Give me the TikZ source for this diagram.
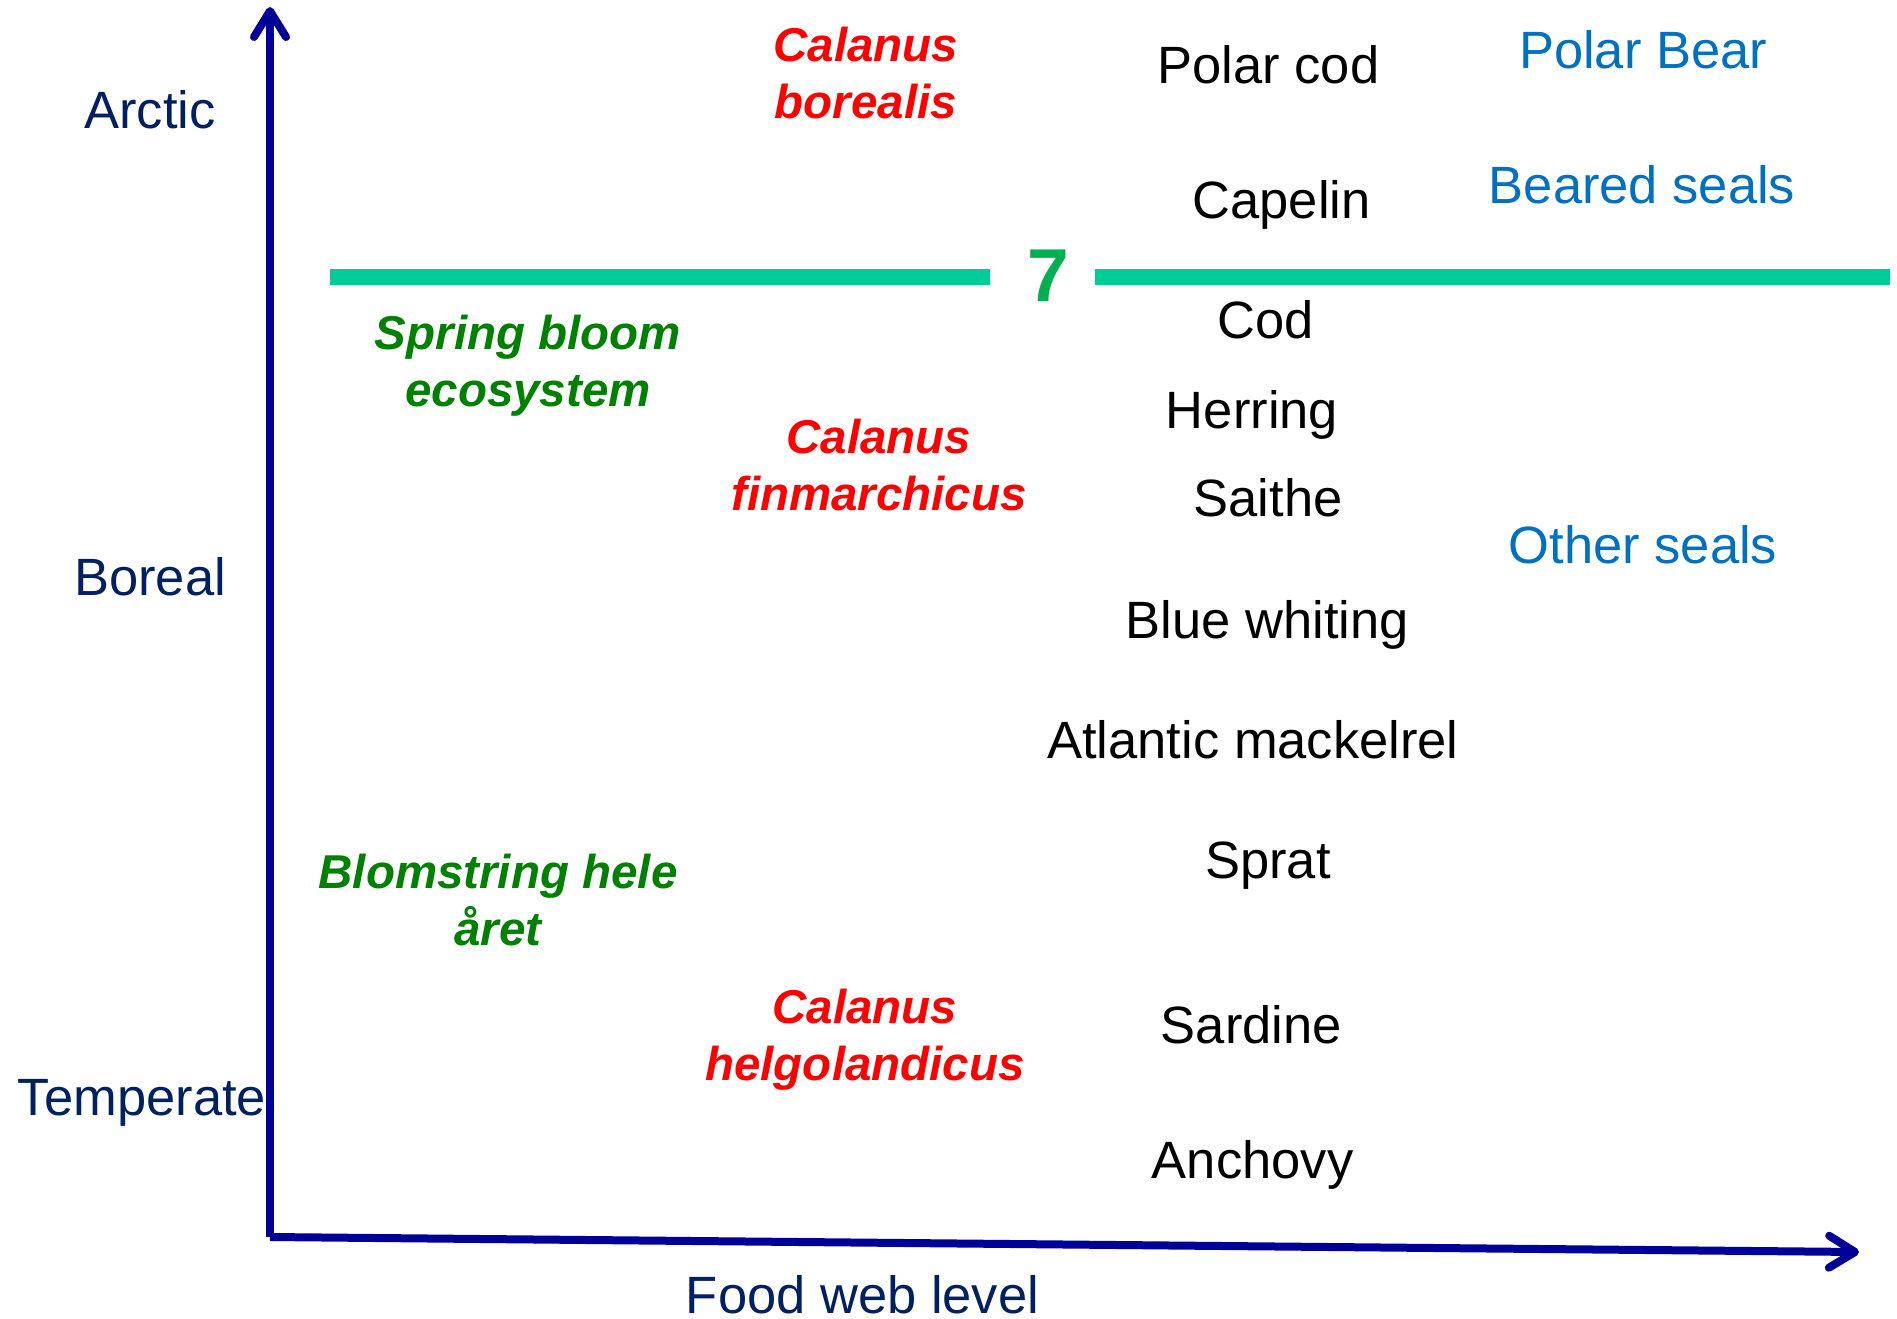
\documentclass[tikz,border=0pt]{standalone}
\usepackage{fontspec}
\setmainfont{Liberation Sans}
\usetikzlibrary{arrows.meta}
\definecolor{navy}{RGB}{0,32,96}
\definecolor{axisblue}{RGB}{0,0,153}
\definecolor{calred}{RGB}{255,0,0}
\definecolor{bloomgreen}{RGB}{0,128,0}
\definecolor{sealblue}{RGB}{0,112,192}
\definecolor{lineteal}{RGB}{0,204,153}
\definecolor{sevengreen}{RGB}{0,176,80}
\tikzset{
  lbl/.style={inner sep=0pt, anchor=base, font=\fontsize{52.5}{60}\selectfont},
  axislbl/.style={lbl, text=navy},
  fish/.style={lbl, text=black},
  seal/.style={lbl, text=sealblue},
  species/.style={inner sep=0pt, anchor=base, align=center, text=calred, font=\fontsize{47.5}{56.5}\selectfont\bfseries\itshape},
  bloom/.style={species, text=bloomgreen},
  axisline/.style={draw=axisblue, line width=8pt, -{Straight Barb[length=26pt,width=32pt,round]}},
  border/.style={draw=lineteal, line width=16pt}
}
\begin{document}
\begin{tikzpicture}[x=1pt,y=-1pt]
\useasboundingbox (0,0) rectangle (1897,1319);
% axes
\coordinate (origin) at (270,1237);
\coordinate (ytip) at (270,7);
\coordinate (xtip) at (1859,1252);
\draw[axisline] (origin) -- (ytip);
\draw[axisline] (origin) -- (xtip);
% boundary line with 7
\coordinate (bl1) at (330,277);
\coordinate (bl2) at (990,277);
\coordinate (br1) at (1095,277);
\coordinate (br2) at (1890,277);
\draw[border] (bl1) -- (bl2);
\draw[border] (br1) -- (br2);
\node[inner sep=0pt, anchor=base, text=sevengreen, font=\fontsize{75}{80}\selectfont\bfseries] (seven) at (1048,301) {7};
% axis labels
\node[axislbl] (arctic) at (150,128.3) {Arctic};
\node[axislbl] (boreal) at (150,595) {Boreal};
\node[axislbl] (temperate) at (142,1115) {Temperate};
\node[axislbl] (foodweb) at (862.5,1313) {Food web level};
% calanus species (anchor base = last line baseline)
\node[species] (calbor) at (866,118.3) {Calanus\\borealis};
\node[species] (calfin) at (879,510) {Calanus\\finmarchicus};
\node[species] (calhel) at (865,1080) {Calanus\\helgolandicus};
% bloom
\node[bloom] (spring) at (528,406) {Spring bloom\\ecosystem};
\node[bloom] (blom) at (498,945) {Blomstring hele\\året};
% fish
\node[fish] (polarcod) at (1268.5,83.3) {Polar cod};
\node[fish] (capelin) at (1281.7,218.3) {Capelin};
\node[fish] (cod) at (1266,338.3) {Cod};
\node[fish] (herring) at (1252,428.3) {Herring};
\node[fish] (saithe) at (1268,516.7) {Saithe};
\node[fish] (bluewhiting) at (1267.5,638.3) {Blue whiting};
\node[fish] (mackerel) at (1253,758.3) {Atlantic mackelrel};
\node[fish] (sprat) at (1268,878.3) {Sprat};
\node[fish] (sardine) at (1251.4,1043.3) {Sardine};
\node[fish] (anchovy) at (1252.6,1178.3) {Anchovy};
% seals
\node[seal] (polarbear) at (1643,68.3) {Polar Bear};
\node[seal] (bearedseals) at (1642,203.3) {Beared seals};
\node[seal] (otherseals) at (1643,563.3) {Other seals};
\end{tikzpicture}
\end{document}
